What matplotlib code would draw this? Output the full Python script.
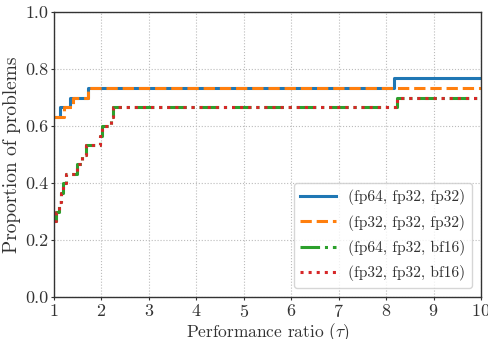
import matplotlib
matplotlib.use("Agg")
import matplotlib.pyplot as plt

plt.rcParams['font.family'] = 'serif'
plt.rcParams['font.serif'] = ['cmr10', 'DejaVu Serif']
plt.rcParams['mathtext.fontset'] = 'cm'
plt.rcParams['axes.formatter.use_mathtext'] = True

labels = ["(fp64, fp32, fp32)", "(fp32, fp32, fp32)", "(fp64, fp32, bf16)", "(fp32, fp32, bf16)"]
colors = ["#1f77b4", "#ff7f0e", "#2ca02c", "#d62728"]
styles = ["-", "--", "-.", ":"]

tau_a = [1.0, 1.13, 1.34, 1.72, 8.17, 10.0]
rho_a = [19/30, 20/30, 21/30, 22/30, 23/30, 23/30]

tau_b = [1.0, 1.21, 1.39, 1.72, 10.0]
rho_b = [19/30, 20/30, 21/30, 22/30, 22/30]

tau_c = [1.0, 1.05, 1.10, 1.14, 1.20, 1.26, 1.48, 1.60, 1.68, 1.98, 2.02, 2.20, 2.24, 8.24, 10.0]
rho_c = [8/30, 9/30, 10/30, 11/30, 12/30, 13/30, 14/30, 15/30, 16/30, 17/30, 18/30, 19/30, 20/30, 21/30, 21/30]

tau_d = list(tau_c)
rho_d = list(rho_c)

series = [(tau_a, rho_a), (tau_b, rho_b), (tau_c, rho_c), (tau_d, rho_d)]

fig = plt.figure(figsize=(4.88, 3.39), dpi=100)
ax = fig.add_axes([54/488, 1 - 297/339, (481-54)/488, (297-12)/339])

for (t, r), lab, c, ls in zip(series, labels, colors, styles):
    ax.step(t, r, where='post', color=c, linestyle=ls, linewidth=2.2, label=lab)

ax.set_xlim(1, 10)
ax.set_ylim(0, 1)
ax.set_xticks(range(1, 11))
ax.set_yticks([0, 0.2, 0.4, 0.6, 0.8, 1.0])
ax.set_yticklabels(["0.0", "0.2", "0.4", "0.6", "0.8", "1.0"])
ax.grid(True, linestyle=':', color='#bbbbbb', linewidth=0.8)
for s in ax.spines.values():
    s.set_color('#333333')
    s.set_linewidth(1.0)
ax.tick_params(labelsize=13, length=2.5, pad=1.5, colors='#333333', labelcolor='#333333')
ax.set_xlabel(r"Performance ratio ($\tau$)", fontsize=12.5, color='#333333', labelpad=1.5)
ax.set_ylabel("Proportion of problems", fontsize=14, color='#333333', labelpad=3)
leg = ax.legend(loc='lower right', fontsize=11.2, handlelength=2.3, labelspacing=0.6,
                borderaxespad=0.6)
for t in leg.get_texts():
    t.set_color('#333333')

fig.savefig("out.png", dpi=100)
